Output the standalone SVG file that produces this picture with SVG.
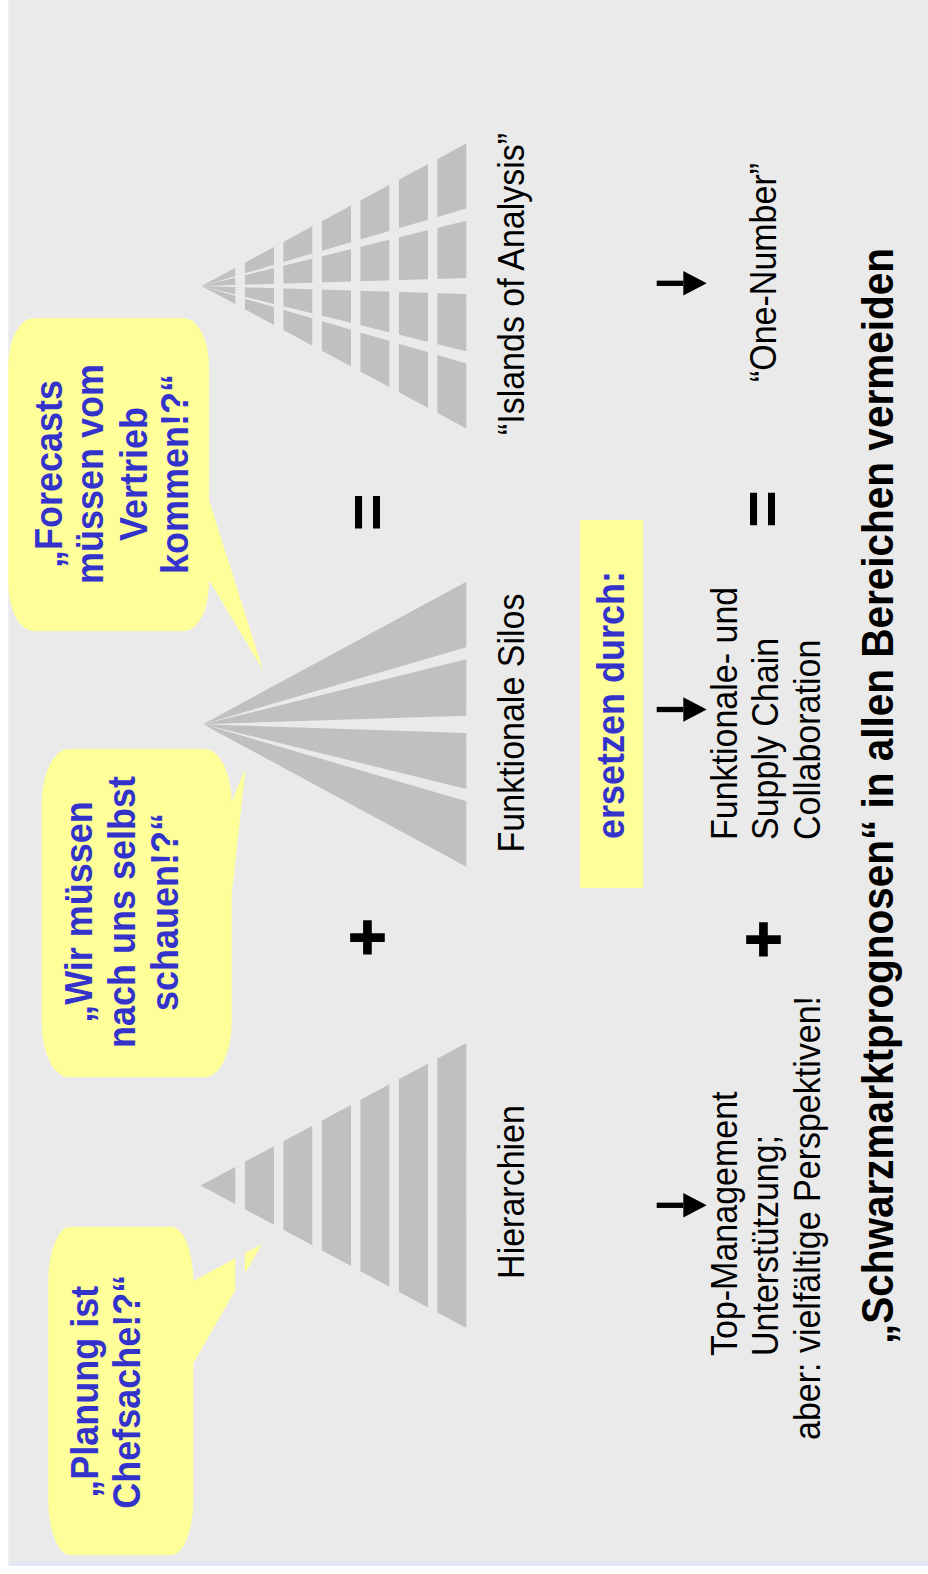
<svg xmlns="http://www.w3.org/2000/svg" width="928" height="1574" viewBox="0 0 928 1574">
  <defs>
    <style>
      .bg { fill: #eaeaea; }
      .gap { fill: #eaeaea; }
      .pyr { fill: #c0c0c0; }
      .bubble { fill: #ffff99; }
      .txt { font-family: "Liberation Sans", Arial, Helvetica, sans-serif; }
      .quote { font-weight: bold; font-size: 36px; fill: #3333cc; text-anchor: middle; }
      .label { font-size: 34px; fill: #000000; }
      .mid { text-anchor: middle; }
      .title { font-weight: bold; font-size: 40.5px; fill: #000000; text-anchor: middle; }
      .op { font-weight: bold; font-size: 65px; fill: #000000; text-anchor: middle; }
      .plus { stroke: #000000; stroke-width: 1.6; }
      .arrow { stroke: #000000; stroke-width: 5.3; fill: none; marker-end: url(#head); }
    </style>
    <marker id="head" markerUnits="userSpaceOnUse" markerWidth="24" markerHeight="25" viewBox="0 0 24 25" refX="0" refY="12.2" orient="auto" overflow="visible">
      <path d="M0,0 L23.4,12.2 L0,24.4 Z" fill="#000000"/>
    </marker>
  </defs>

  <!-- slide background -->
  <rect x="0" y="0" width="928" height="1574" fill="#ffffff"/>
  <rect class="bg" x="8.3" y="0" width="919.7" height="1561"/>
  <rect x="8.3" y="1561" width="919.7" height="5" fill="#e3e8f2"/>

  <!-- speech bubbles -->
  <g id="callout-forecasts">
    <rect class="bubble" x="8.3" y="318.3" width="200.7" height="312.7" rx="25" ry="48"/>
    <polygon class="bubble" points="190,500 209,500 263,670 209,580 190,580"/>
    <g class="txt quote">
      <text transform="translate(61.7,474) rotate(-90) scale(1,1.08)">„Forecasts</text>
      <text transform="translate(103.3,474) rotate(-90) scale(1,1.08)">müssen vom</text>
      <text transform="translate(146.7,474) rotate(-90) scale(1,1.08)">Vertrieb</text>
      <text transform="translate(188.3,474) rotate(-90) scale(1,1.08)">kommen!?“</text>
    </g>
  </g>

  <g id="callout-wir">
    <rect class="bubble" x="41.7" y="749" width="190" height="328.3" rx="27" ry="55"/>
    <polygon class="bubble" points="220,801.7 231.7,801.7 245.5,768.5 231.7,895 220,895"/>
    <g class="txt quote">
      <text transform="translate(91.7,912) rotate(-90) scale(1,1.08)">„Wir müssen</text>
      <text transform="translate(135,912) rotate(-90) scale(1,1.08)">nach uns selbst</text>
      <text transform="translate(178.3,912) rotate(-90) scale(1,1.08)">schauen!?“</text>
    </g>
  </g>

  <g id="callout-planung">
    <rect class="bubble" x="48.3" y="1226.7" width="145" height="328.3" rx="22" ry="55"/>
    <polygon class="bubble" points="180,1281 193.3,1281 261.7,1244.3 193.3,1363.3 180,1363.3"/>
    <g class="txt quote">
      <text transform="translate(98.3,1391.7) rotate(-90) scale(1,1.08)">„Planung ist</text>
      <text transform="translate(140,1391.7) rotate(-90) scale(1,1.08)">Chefsache!?“</text>
    </g>
  </g>

  <!-- layered pyramid: hierarchy levels -->
  <g id="pyramid-hierarchien">
    <polygon class="pyr" points="200.7,1185.5 466.3,1043 466.3,1328"/>
    <rect class="gap" x="235.3" y="1040" width="9.6" height="291"/>
    <rect class="gap" x="274" y="1040" width="9.4" height="291"/>
    <rect class="gap" x="312.3" y="1040" width="9.6" height="291"/>
    <rect class="gap" x="351" y="1040" width="9.4" height="291"/>
    <rect class="gap" x="389.3" y="1040" width="9.6" height="291"/>
    <rect class="gap" x="428" y="1040" width="9.4" height="291"/>
  </g>

  <!-- fanned pyramid: functional silos -->
  <g id="pyramid-silos">
    <polygon class="pyr" points="203,724.2 466.3,581.7 466.3,647.3"/>
    <polygon class="pyr" points="203,724.2 466.3,659.3 466.3,715.7"/>
    <polygon class="pyr" points="203,724.2 466.3,733 466.3,789"/>
    <polygon class="pyr" points="203,724.2 466.3,801.3 466.3,866.7"/>
  </g>

  <!-- fanned and layered pyramid: islands of analysis -->
  <g id="pyramid-islands">
    <polygon class="pyr" points="201.5,286 466.3,143.5 466.3,208.5"/>
    <polygon class="pyr" points="201.5,286 466.3,220.7 466.3,278"/>
    <polygon class="pyr" points="201.5,286 466.3,294 466.3,351.3"/>
    <polygon class="pyr" points="201.5,286 466.3,363.5 466.3,428.5"/>
    <rect class="gap" x="235.3" y="140" width="9.6" height="292"/>
    <rect class="gap" x="274" y="140" width="9.4" height="292"/>
    <rect class="gap" x="312.3" y="140" width="9.6" height="292"/>
    <rect class="gap" x="351" y="140" width="9.4" height="292"/>
    <rect class="gap" x="389.3" y="140" width="9.6" height="292"/>
    <rect class="gap" x="428" y="140" width="9.4" height="292"/>
  </g>

  <!-- pyramid captions -->
  <g id="label-hierarchien" class="txt label">
    <text class="mid" transform="translate(523.5,1192) rotate(-90) scale(1,1.08)">Hierarchien</text>
  </g>
  <g id="label-silos" class="txt label">
    <text class="mid" transform="translate(523.5,723) rotate(-90) scale(1,1.08)">Funktionale Silos</text>
  </g>
  <g id="label-islands" class="txt label">
    <text class="mid" transform="translate(523.5,284) rotate(-90) scale(1,1.08)">“Islands of Analysis”</text>
  </g>

  <!-- operators -->
  <g id="op-plus-1" class="txt op plus">
    <text transform="translate(368,937.5) rotate(-90)" y="21">+</text>
  </g>
  <g id="op-equals-1" class="txt op">
    <text transform="translate(367.8,512.3) rotate(-90)" y="21">=</text>
  </g>
  <g id="op-plus-2" class="txt op plus">
    <text transform="translate(763.5,939.5) rotate(-90)" y="21">+</text>
  </g>
  <g id="op-equals-2" class="txt op">
    <text transform="translate(763,509) rotate(-90)" y="21">=</text>
  </g>

  <!-- replacement banner -->
  <g id="banner-ersetzen">
    <rect class="bubble" x="580" y="520" width="63.2" height="368"/>
    <text class="txt quote" transform="translate(624.3,705) rotate(-90) scale(1,1.08)">ersetzen durch:</text>
  </g>

  <!-- remedies -->
  <g id="label-management" class="txt label">
    <text transform="translate(736.7,1356) rotate(-90) scale(1,1.08)">Top-Management</text>
    <text transform="translate(778,1356) rotate(-90) scale(1,1.08)">Unterstützung;</text>
    <text transform="translate(819.5,1440) rotate(-90) scale(1,1.08)">aber: vielfältige Perspektiven!</text>
  </g>
  <g id="label-collaboration" class="txt label">
    <text transform="translate(736.7,840) rotate(-90) scale(1,1.08)">Funktionale- und</text>
    <text transform="translate(778,840) rotate(-90) scale(1,1.08)">Supply Chain</text>
    <text transform="translate(819.5,840) rotate(-90) scale(1,1.08)">Collaboration</text>
  </g>
  <g id="label-one-number" class="txt label">
    <text class="mid" transform="translate(776,272.5) rotate(-90) scale(1,1.08)">“One-Number”</text>
  </g>

  <!-- headline -->
  <g id="title" class="txt">
    <text class="title" transform="translate(893,796) rotate(-90) scale(1,1.08)">„Schwarzmarktprognosen“ in allen Bereichen vermeiden</text>
  </g>

  <!-- arrows pointing to the remedies -->
  <g id="connectors">
    <line class="arrow" x1="656.7" y1="283.3" x2="683.3" y2="283.3"/>
    <line class="arrow" x1="656.7" y1="709.5" x2="683.3" y2="709.5"/>
    <line class="arrow" x1="656.7" y1="1205.3" x2="683.3" y2="1205.3"/>
  </g>
</svg>
